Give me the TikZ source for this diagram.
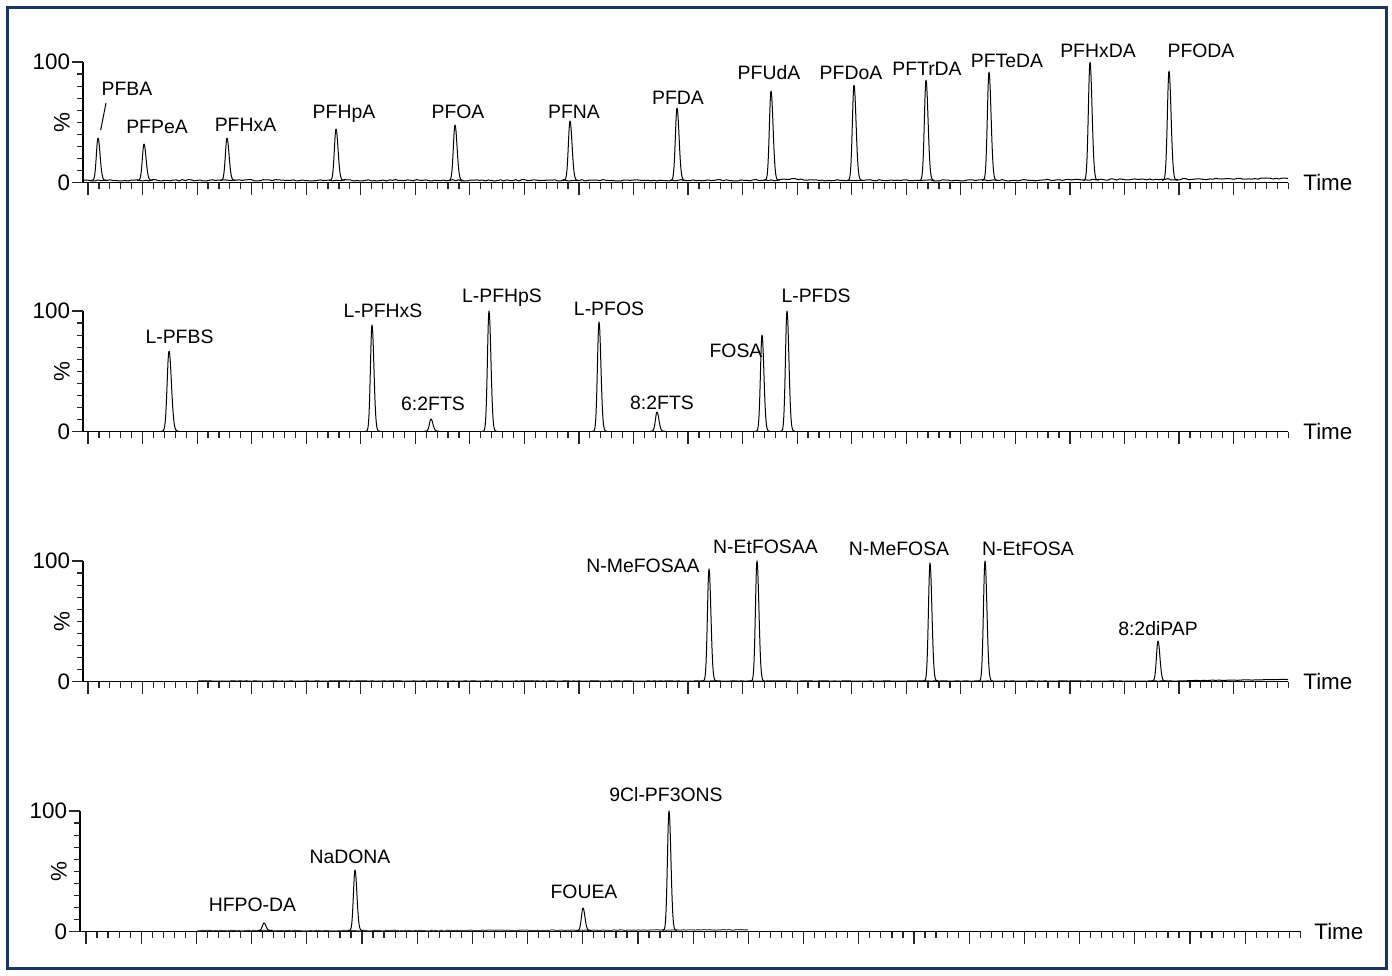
\documentclass[tikz,border=0pt]{standalone}
\usepackage{fontspec}
\setmainfont{Liberation Sans}
\definecolor{navy}{RGB}{23,55,94}
\tikzset{
  trace/.style={line width=0.5pt, line join=round},
  axisline/.style={line width=0.6pt},
  ticks/.style={line width=0.6pt, black!85},
  lbl/.style={font=\fontsize{9.7pt}{11pt}\selectfont, inner sep=0pt, anchor=base},
  axlbl/.style={font=\fontsize{11.2pt}{13pt}\selectfont, inner sep=0pt},
}
% #1 prefix, #2 x0, #3 y100, #4 y0, #5 xstart, #6 dx, #7 xend, #8 time x
\newcommand\chaxes[8]{%
  \draw[axisline] (#2,#3) -- (#2,#4) -- (#7,#4);
  \draw[ticks] (#2-11,#3) -- (#2,#3);
  \draw[ticks] (#2-11,#4) -- (#2,#4);
  \foreach \k in {1,...,9} \draw[ticks] (#2-6,{#4-\k*(#4-#3)/10}) -- (#2,{#4-\k*(#4-#3)/10});
  \foreach \i in {0,...,110} {
     \pgfmathsetmacro\tl{(mod(\i,5)==0)*(\i<110)*6+6}
     \draw[ticks] ({#5+\i*#6/5},#4) -- ++(0,\tl);
  }
  \node[axlbl, anchor=east] (#1-100) at (#2-12.5,#3) {100};
  \node[axlbl, anchor=east] (#1-0) at (#2-12.5,#4) {0};
  \node[axlbl, rotate=90] (#1-pct) at (#2-21,{(#3+#4)/2}) {\%};
  \node[axlbl, anchor=west] (#1-time) at (#8,#4) {Time};
}
% #1 centre, #2 base, #3 top, #4 left width, #5 right width
\newcommand\peak[5]{%
  \pgfmathsetmacro\pa{#1-3*#4}\pgfmathsetmacro\pb{#1+3*#5}%
  \draw[trace] plot[domain=\pa:\pb, samples=41]
    (\x, {#2-(#2-#3)*exp(-((\x-#1)/(#4+(#5-#4)*(\x>#1)))*((\x-#1)/(#4+(#5-#4)*(\x>#1))))});
}
\begin{document}
\begin{tikzpicture}[x=0.5pt,y=-0.5pt]
\useasboundingbox (0,0) rectangle (1392,975);
\fill[white] (0,0) rectangle (1392,975);
\draw[navy, line width=1.5pt] (7.5,7) rectangle (1386.5,968);

% ---------------- panel 1 ----------------
\chaxes{a}{83}{62}{182.5}{88}{54.55}{1288}{1303}
\pgfmathsetseed{7}
\draw[trace] plot[domain=83:1288, samples=402]
  (\x, {180.3 - 1.8*max(0,\x-1000)/288 - 1.5*exp(-min(((\x-790)/12)*((\x-790)/12),9)) + 0.7*rand});
\foreach \c/\t/\lx/\ly/\txt/\nm in {
  98/138/127/95/PFBA/pfba,
  144/144/157/133/PFPeA/pfpea,
  227/138/245.5/131/PFHxA/pfhxa,
  336/129/344/118/PFHpA/pfhpa,
  455/125/458/118/PFOA/pfoa,
  570/121/574/118/PFNA/pfna,
  677/108/678/104/PFDA/pfda,
  771/91/769/79/PFUdA/pfuda,
  854/85/851/79/PFDoA/pfdoa,
  926/80/927/75/PFTrDA/pftrda,
  989/72/1007/67/PFTeDA/pfteda,
  1090/62/1098/57/PFHxDA/pfhxda,
  1169/71/1201/57/PFODA/pfoda} {
  \peak{\c}{180.3}{\t}{2.3}{2.9}
  \node[lbl] (\nm) at (\lx,\ly) {\txt};
}
\coordinate (pfba-lead-top) at (106,103);
\coordinate (pfba-lead-bot) at (100.7,130);
\draw[trace] (pfba-lead-top) -- (pfba-lead-bot);

% ---------------- panel 2 ----------------
\chaxes{b}{83}{311}{431.7}{88}{54.55}{1288}{1303}
\draw[trace] (83,431.2) -- (905,431.2);
\peak{169}{431.2}{351}{2.6}{3.4}
\foreach \c/\t/\lx/\ly/\txt/\nm in {
  372/325/383/317/L-PFHxS/lpfhxs,
  431/419/433/410/6:2FTS/ftsa,
  489/311/502/302/L-PFHpS/lpfhps,
  599/322/609/315/L-PFOS/lpfos,
  657/412/662/409/8:2FTS/ftsb,
  762/335/736/357/FOSA/fosa,
  787/311/816/302/L-PFDS/lpfds} {
  \peak{\c}{431.2}{\t}{2.2}{2.7}
  \node[lbl] (\nm) at (\lx,\ly) {\txt};
}
\node[lbl] (lpfbs) at (179.5,343) {L-PFBS};

% ---------------- panel 3 ----------------
\chaxes{c}{83}{561}{681.7}{88}{54.55}{1288}{1303}
\pgfmathsetseed{11}
\draw[trace] plot[domain=198:1288, samples=364]
  (\x, {681.0 - 1.5*max(0,\x-1160)/128 + 0.25*rand});
\foreach \c/\t/\lx/\ly/\txt/\nm in {
  709/569/643/572/N-MeFOSAA/nmefosaa,
  757/561/765.5/553/N-EtFOSAA/netfosaa,
  930/563/899/555/N-MeFOSA/nmefosa,
  985/561/1028/555/N-EtFOSA/netfosa,
  1158/641/1158/635/8:2diPAP/dipap} {
  \peak{\c}{681.0}{\t}{2.2}{2.7}
  \node[lbl] (\nm) at (\lx,\ly) {\txt};
}

% ---------------- panel 4 ----------------
\chaxes{d}{80}{811}{931.7}{86}{55.2}{1300.5}{1314}
\pgfmathsetseed{3}
\draw[trace, black!75] plot[domain=197:748, samples=276]
  (\x, {930.6 - 0.8*max(0,\x-400)/348 + 0.4*rand});
\foreach \c/\t/\lx/\ly/\txt/\nm in {
  264/923/252.5/911/HFPO-DA/hfpoda,
  355/870/350/863/NaDONA/nadona,
  583/908/584/898/FOUEA/fouea,
  669/811/666/801/9Cl-PF3ONS/clpf} {
  \peak{\c}{930.4}{\t}{2.2}{2.7}
  \node[lbl] (\nm) at (\lx,\ly) {\txt};
}
\end{tikzpicture}
\end{document}
